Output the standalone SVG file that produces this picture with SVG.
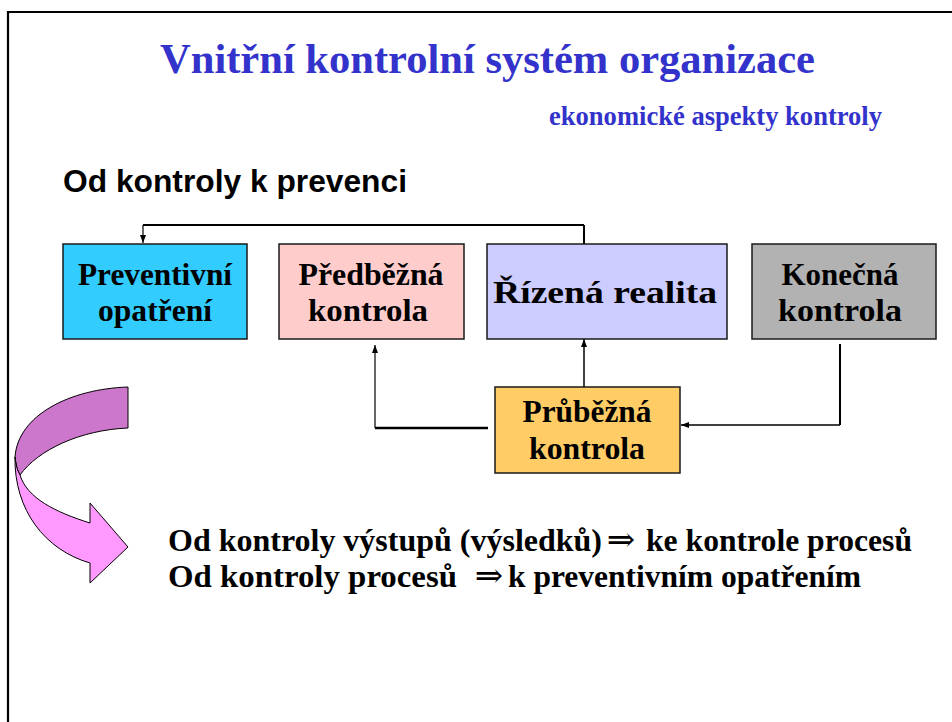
<svg xmlns="http://www.w3.org/2000/svg" width="952" height="722" viewBox="0 0 952 722">
<style>
.box{stroke:#1a1a1a;stroke-width:1.5}
.serif{font-family:"Liberation Serif","Times New Roman",serif;font-weight:bold}
.bt{font-size:32px;fill:#000;text-anchor:middle}
.ln{fill:none;stroke:#000}
.body{font-size:31px;fill:#000}
.sym{font-family:"DejaVu Serif","DejaVu Sans",serif;font-size:34px;fill:#000;text-anchor:middle}
</style>
<defs>
<marker id="ah" viewBox="0 0 8 8" refX="8" refY="4" markerWidth="8" markerHeight="8" markerUnits="userSpaceOnUse" orient="auto">
<path d="M0,1 L8,4 L0,7 Z" fill="#000"/>
</marker>
</defs>
<rect width="952" height="722" fill="#fff"/>
<path d="M8,722 L8,12 L952,12" fill="none" stroke="#000" stroke-width="2.2"/>
<text class="serif" x="160" y="73" font-size="42.5" fill="#3333CC" textLength="655" lengthAdjust="spacingAndGlyphs">Vnitřní kontrolní systém organizace</text>
<text class="serif" x="549" y="125" font-size="26.5" fill="#3333CC" textLength="333" lengthAdjust="spacingAndGlyphs">ekonomické aspekty kontroly</text>
<text x="63" y="192" font-family="Liberation Sans, Arial, sans-serif" font-weight="bold" font-size="31.5" fill="#000" textLength="344" lengthAdjust="spacingAndGlyphs">Od kontroly k prevenci</text>
<g id="connectors">
<path class="ln" d="M584,244 L584,225" stroke-width="2"/>
<path class="ln" d="M584,225 L143,225" stroke-width="2"/>
<path class="ln" d="M143,225 L143,243" stroke-width="1.2" marker-end="url(#ah)"/>
<path class="ln" d="M488,428 L375,428" stroke-width="2.4"/>
<path class="ln" d="M375,428 L375,345" stroke-width="1.2" marker-end="url(#ah)"/>
<path class="ln" d="M584,387 L584,339" stroke-width="1.5" marker-end="url(#ah)"/>
<path class="ln" d="M840,344 L840,425" stroke-width="2"/>
<path class="ln" d="M840,425 L681,425" stroke-width="1.4" marker-end="url(#ah)"/>
</g>
<g id="preventivni">
<rect class="box" x="63" y="244" width="184" height="95" fill="#33CCFF"/>
<text class="serif bt" x="155" y="285" textLength="154" lengthAdjust="spacingAndGlyphs">Preventivní</text>
<text class="serif bt" x="155" y="321" textLength="114" lengthAdjust="spacingAndGlyphs">opatření</text>
</g>
<g id="predbezna">
<rect class="box" x="279" y="244" width="185" height="95" fill="#FFCCCC"/>
<text class="serif bt" x="371" y="285" textLength="145" lengthAdjust="spacingAndGlyphs">Předběžná</text>
<text class="serif bt" x="368" y="321" textLength="120" lengthAdjust="spacingAndGlyphs">kontrola</text>
</g>
<g id="rizena">
<rect class="box" x="487" y="244" width="240" height="95" fill="#CCCCFF"/>
<text class="serif bt" x="605" y="303" font-size="38" textLength="224" lengthAdjust="spacingAndGlyphs">Řízená realita</text>
</g>
<g id="konecna">
<rect class="box" x="752" y="244" width="184" height="95" fill="#B2B2B2"/>
<text class="serif bt" x="840" y="285" textLength="117" lengthAdjust="spacingAndGlyphs">Konečná</text>
<text class="serif bt" x="840" y="321" textLength="124" lengthAdjust="spacingAndGlyphs">kontrola</text>
</g>
<g id="prubezna">
<rect class="box" x="495" y="387" width="185" height="86" fill="#FFCC66"/>
<text class="serif bt" x="587" y="422" textLength="129" lengthAdjust="spacingAndGlyphs">Průběžná</text>
<text class="serif bt" x="587" y="459" textLength="116" lengthAdjust="spacingAndGlyphs">kontrola</text>
</g>
<g id="curved-arrow" stroke="#000" stroke-width="1" stroke-linejoin="round">
<path d="M128,387 C70,389 18,415 15,457 C16,465 17,470 20,475 C38,450 80,430 128,428 Z" fill="#CC77CC"/>
<path d="M15,457 C14,510 45,550 90,563 L90,583 L128,547 L90,503 L90,523 C55,512 27,498 20,475 C17,470 16,465 15,457 Z" fill="#FF99FF"/>
</g>
<g id="bottom-text">
<text class="serif body" x="168" y="551" textLength="434" lengthAdjust="spacingAndGlyphs">Od kontroly výstupů (výsledků)</text>
<text class="sym" x="621" y="551">⇒</text>
<text class="serif body" x="646" y="551" textLength="266" lengthAdjust="spacingAndGlyphs">ke kontrole procesů</text>
<text class="serif body" x="168" y="587" textLength="289" lengthAdjust="spacingAndGlyphs">Od kontroly procesů</text>
<text class="sym" x="489" y="587">⇒</text>
<text class="serif body" x="508" y="587" textLength="353" lengthAdjust="spacingAndGlyphs">k preventivním opatřením</text>
</g>
</svg>
